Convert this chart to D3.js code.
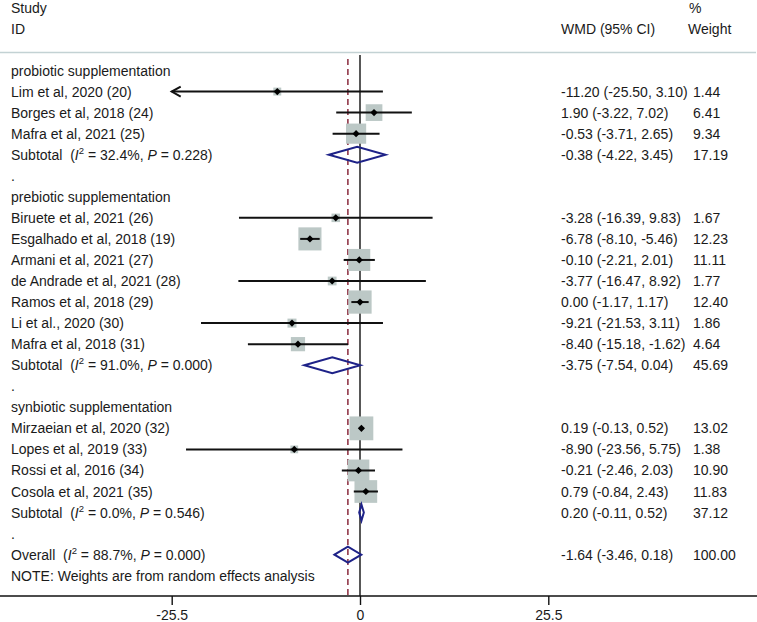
<!DOCTYPE html>
<html>
<head>
<meta charset="utf-8">
<script src="https://cdn.jsdelivr.net/npm/d3@7"></script>
<style>
  html, body { margin: 0; padding: 0; background: #fff; }
  svg { display: block; }
  text { font-family: "Liberation Sans", Arial, sans-serif; font-size: 14px; fill: #1a1a1a; }
</style>
</head>
<body>
<svg id="chart" width="757" height="622"></svg>
<script>
// ---------- data ----------
const groupNames = ["probiotic supplementation", "prebiotic supplementation", "synbiotic supplementation"];

const studyNames = [
  "Lim et al, 2020 (20)", "Borges et al, 2018 (24)", "Mafra et al, 2021 (25)",
  "Biruete et al, 2021 (26)", "Esgalhado et al, 2018 (19)", "Armani et al, 2021 (27)",
  "de Andrade et al, 2021 (28)", "Ramos et al, 2018 (29)", "Li et al., 2020 (30)", "Mafra et al, 2018 (31)",
  "Mirzaeian et al, 2020 (32)", "Lopes et al, 2019 (33)", "Rossi et al, 2016 (34)", "Cosola et al, 2021 (35)"
];
const studyGroup = [0, 0, 0, 1, 1, 1, 1, 1, 1, 1, 2, 2, 2, 2];
const studyES = [-11.20, 1.90, -0.53, -3.28, -6.78, -0.10, -3.77, 0.00, -9.21, -8.40, 0.19, -8.90, -0.21, 0.79];
const studyLo = [-25.50, -3.22, -3.71, -16.39, -8.10, -2.21, -16.47, -1.17, -21.53, -15.18, -0.13, -23.56, -2.46, -0.84];
const studyHi = [3.10, 7.02, 2.65, 9.83, -5.46, 2.01, 8.92, 1.17, 3.11, -1.62, 0.52, 5.75, 2.03, 2.43];
const studyWt = [1.44, 6.41, 9.34, 1.67, 12.23, 11.11, 1.77, 12.40, 1.86, 4.64, 13.02, 1.38, 10.90, 11.83];

const subES = [-0.38, -3.75, 0.20];
const subLo = [-4.22, -7.54, -0.11];
const subHi = [3.45, 0.04, 0.52];
const subWt = [17.19, 45.69, 37.12];
const subI2 = ["32.4%", "91.0%", "0.0%"];
const subP  = ["0.228", "0.000", "0.546"];

const overallES = -1.64, overallLo = -3.46, overallHi = 0.18, overallWt = 100.00;
const overallI2 = "88.7%", overallP = "0.000";

const axisTicks = [-25.5, 0, 25.5];
const axisTickLabels = ["-25.5", "0", "25.5"];
const noteText = "NOTE: Weights are from random effects analysis";

// ---------- layout ----------
const svg = d3.select("#chart");
const W = 757;
const x = d3.scaleLinear().domain([-25.5, 25.5]).range([171.7, 548.3]);
const xMin = -25.5, xMax = 45.5;

// build row list
const rows = [];
groupNames.forEach((g, gi) => {
  rows.push({ type: "group", label: g });
  studyNames.forEach((n, i) => {
    if (studyGroup[i] === gi) rows.push({ type: "study", label: n, es: studyES[i], lo: studyLo[i], hi: studyHi[i], wt: studyWt[i] });
  });
  rows.push({ type: "sub", label: "Subtotal", es: subES[gi], lo: subLo[gi], hi: subHi[gi], wt: subWt[gi], i2: subI2[gi], p: subP[gi] });
  rows.push({ type: "dot", label: "." });
});
rows.push({ type: "sub", label: "Overall", es: overallES, lo: overallLo, hi: overallHi, wt: overallWt, i2: overallI2, p: overallP });
rows.push({ type: "note", label: noteText });

const y = d3.scaleLinear().domain([0, 1]).range([70.5, 91.55]);
const axisY = 596;
const leftX = 11, wmdX = 561, wtX = 693;
const fmt = v => v.toFixed(2);

// header
svg.append("text").attr("x", leftX).attr("y", 8).attr("dominant-baseline", "central").text("Study");
svg.append("text").attr("x", leftX).attr("y", 29).attr("dominant-baseline", "central").text("ID");
svg.append("text").attr("x", wmdX).attr("y", 29).attr("dominant-baseline", "central").text("WMD (95% CI)");
svg.append("text").attr("x", 689).attr("y", 8).attr("dominant-baseline", "central").text("%");
svg.append("text").attr("x", 688).attr("y", 29).attr("dominant-baseline", "central").text("Weight");
svg.append("line").attr("x1", 0).attr("x2", 756).attr("y1", 52.5).attr("y2", 52.5)
  .attr("stroke", "#c3d2d4").attr("stroke-width", 1.5);

// reference lines
svg.append("line").attr("x1", x(0)).attr("x2", x(0)).attr("y1", 55).attr("y2", axisY)
  .attr("stroke", "#111").attr("stroke-width", 1.4);
svg.append("line").attr("x1", x(overallES)).attr("x2", x(overallES)).attr("y1", 59).attr("y2", axisY)
  .attr("stroke", "#8a2a3c").attr("stroke-width", 1.5).attr("stroke-dasharray", "6,4");

// rows
rows.forEach((r, i) => {
  const cy = y(i);
  if (r.type === "sub") {
    const t = svg.append("text").attr("x", leftX).attr("y", cy).attr("dominant-baseline", "central");
    t.append("tspan").text(r.label + "\u00a0\u00a0(");
    t.append("tspan").attr("font-style", "italic").text("I");
    t.append("tspan").attr("font-size", "9.5px").attr("dy", -5).text("2");
    t.append("tspan").attr("dy", 5).text(" = " + r.i2 + ", ");
    t.append("tspan").attr("font-style", "italic").text("P");
    t.append("tspan").text(" = " + r.p + ")");
  } else {
    svg.append("text").attr("x", leftX).attr("y", cy).attr("dominant-baseline", "central").text(r.label);
  }
  if (r.type === "study" || r.type === "sub") {
    svg.append("text").attr("x", wmdX).attr("y", cy).attr("dominant-baseline", "central")
      .text(`${fmt(r.es)} (${fmt(r.lo)}, ${fmt(r.hi)})`);
    svg.append("text").attr("x", wtX).attr("y", cy).attr("dominant-baseline", "central").text(fmt(r.wt));
  }
});

// boxes first (so lines are on top)
rows.forEach((r, i) => {
  if (r.type !== "study") return;
  const s = 6.6 * Math.sqrt(r.wt);
  svg.append("rect").attr("x", x(r.es) - s / 2).attr("y", y(i) - s / 2).attr("width", s).attr("height", s)
    .attr("fill", "#bcc8c6");
});
rows.forEach((r, i) => {
  if (r.type !== "study") return;
  const cy = y(i);
  const lo = Math.max(r.lo, xMin), hi = Math.min(r.hi, xMax);
  svg.append("line").attr("x1", x(lo)).attr("x2", x(hi)).attr("y1", cy).attr("y2", cy)
    .attr("stroke", "#111").attr("stroke-width", 2);
  if (r.lo <= xMin) {
    svg.append("path")
      .attr("d", `M${x(lo) + 9},${cy - 5}L${x(lo)},${cy}L${x(lo) + 9},${cy + 5}`)
      .attr("fill", "none").attr("stroke", "#111").attr("stroke-width", 2);
  }
  const d = 3.6;
  svg.append("path")
    .attr("d", `M${x(r.es) - d},${cy}L${x(r.es)},${cy - d}L${x(r.es) + d},${cy}L${x(r.es)},${cy + d}Z`)
    .attr("fill", "#000");
});
// diamonds
rows.forEach((r, i) => {
  if (r.type !== "sub") return;
  const cy = y(i), h = 8;
  svg.append("path")
    .attr("d", `M${x(r.lo)},${cy}L${x(r.es)},${cy - h}L${x(r.hi)},${cy}L${x(r.es)},${cy + h}Z`)
    .attr("fill", "none").attr("stroke", "#1e2288").attr("stroke-width", 2);
});

// axis
const axis = d3.axisBottom(x).tickValues(axisTicks).tickFormat((d, i) => axisTickLabels[i]).tickSize(9).tickPadding(5);
const ag = svg.append("g").attr("transform", `translate(0,${axisY})`).call(axis);
ag.select(".domain").remove();
ag.selectAll(".tick line").attr("stroke", "#111").attr("stroke-width", 1.4);
ag.selectAll(".tick text").attr("font-size", "14px").attr("font-family", "Liberation Sans, Arial, sans-serif").attr("fill", "#1a1a1a");
svg.append("line").attr("x1", 0).attr("x2", W).attr("y1", axisY).attr("y2", axisY)
  .attr("stroke", "#111").attr("stroke-width", 1.4);
</script>
</body>
</html>
